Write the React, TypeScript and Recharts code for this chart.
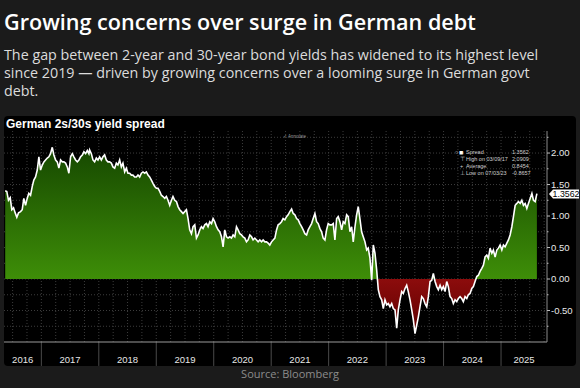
import React from 'react';
import { ComposedChart, Area, XAxis, YAxis, CartesianGrid, ReferenceLine } from 'recharts';

// Observation dates (decimal years) and German 2s/30s spread values (pct points)
const dates: number[] = [
  // 2016-05 .. 2017-10
  2016.371, 2016.399, 2016.428, 2016.458, 2016.486, 2016.516, 2016.545, 2016.573, 2016.603, 2016.638,
  2016.667, 2016.695, 2016.725, 2016.754, 2016.782, 2016.812, 2016.842, 2016.869, 2016.899, 2016.929,
  2016.957, 2016.986, 2017.016, 2017.044, 2017.073, 2017.103, 2017.131, 2017.160, 2017.190, 2017.218,
  2017.248, 2017.277, 2017.305, 2017.335, 2017.364, 2017.392, 2017.422, 2017.451, 2017.479, 2017.509,
  2017.539, 2017.566, 2017.596, 2017.626, 2017.654, 2017.683, 2017.713, 2017.741, 2017.770, 2017.800,
  2017.828,
  // 2017-11 .. 2019-05
  2017.840, 2017.870, 2017.898, 2017.927, 2017.957, 2017.985, 2018.014, 2018.044, 2018.072, 2018.101,
  2018.131, 2018.159, 2018.188, 2018.218, 2018.246, 2018.276, 2018.305, 2018.333, 2018.363, 2018.392,
  2018.420, 2018.450, 2018.479, 2018.507, 2018.537, 2018.567, 2018.594, 2018.624, 2018.654, 2018.682,
  2018.711, 2018.741, 2018.769, 2018.798, 2018.828, 2018.856, 2018.885, 2018.915, 2018.943, 2018.973,
  2019.002, 2019.030, 2019.060, 2019.089, 2019.117, 2019.147, 2019.176, 2019.204, 2019.234, 2019.264,
  2019.291, 2019.321, 2019.351, 2019.379,
  // 2019-05 .. 2020-12
  2019.408, 2019.438, 2019.466, 2019.495, 2019.525, 2019.553, 2019.582, 2019.612, 2019.640, 2019.670,
  2019.699, 2019.727, 2019.757, 2019.786, 2019.814, 2019.844, 2019.873, 2019.901, 2019.931, 2019.961,
  2019.989,
  2020.018, 2020.048, 2020.076, 2020.105, 2020.135, 2020.163, 2020.192, 2020.222, 2020.250, 2020.280,
  2020.309, 2020.337, 2020.367, 2020.396, 2020.424, 2020.454, 2020.483, 2020.511, 2020.541, 2020.570,
  2020.598, 2020.628, 2020.658, 2020.685, 2020.715, 2020.745, 2020.773, 2020.802, 2020.832, 2020.860,
  2020.889, 2020.919, 2020.947,
  // 2020-12 .. 2022-07
  2020.976,
  2021.006, 2021.034, 2021.064, 2021.093, 2021.121, 2021.151, 2021.180, 2021.208, 2021.238, 2021.267,
  2021.295, 2021.325, 2021.355, 2021.383, 2021.412, 2021.442, 2021.470, 2021.499, 2021.529, 2021.557,
  2021.586, 2021.616, 2021.644, 2021.674, 2021.703, 2021.731, 2021.761, 2021.790, 2021.818, 2021.848,
  2021.877, 2021.905, 2021.935, 2021.964, 2021.992,
  2022.022, 2022.052, 2022.080, 2022.109, 2022.139, 2022.167, 2022.196, 2022.226, 2022.254, 2022.283,
  2022.313, 2022.341, 2022.371, 2022.400, 2022.428, 2022.458, 2022.487, 2022.515,
  // 2022-07 .. 2024-01
  2022.545, 2022.574, 2022.602, 2022.632, 2022.662, 2022.689, 2022.719, 2022.749, 2022.777, 2022.806,
  2022.836, 2022.864, 2022.893, 2022.923, 2022.951, 2022.980,
  2023.010, 2023.038, 2023.067, 2023.097, 2023.125, 2023.155, 2023.184, 2023.212, 2023.242, 2023.271,
  2023.299, 2023.329, 2023.358, 2023.386, 2023.416, 2023.446, 2023.474, 2023.503, 2023.533, 2023.561,
  2023.590, 2023.620, 2023.648, 2023.677, 2023.707, 2023.735, 2023.765, 2023.794, 2023.822, 2023.852,
  2023.881, 2023.909, 2023.939, 2023.968, 2023.996,
  2024.026, 2024.055, 2024.083,
  // 2024-02 .. 2025-08
  2024.113, 2024.142, 2024.170, 2024.200, 2024.229, 2024.257, 2024.287, 2024.316, 2024.344, 2024.374,
  2024.404, 2024.431, 2024.461, 2024.491, 2024.519, 2024.548, 2024.578, 2024.606, 2024.635, 2024.665,
  2024.693, 2024.722, 2024.752, 2024.780, 2024.810, 2024.840, 2024.867, 2024.897, 2024.927, 2024.955,
  2024.984,
  2025.014, 2025.042, 2025.071, 2025.101, 2025.129, 2025.158, 2025.188, 2025.216, 2025.246, 2025.275,
  2025.303, 2025.333, 2025.362, 2025.390, 2025.420, 2025.449, 2025.477, 2025.507, 2025.537, 2025.564,
  2025.594, 2025.624,
];

const spread: number[] = [
  1.40, 1.39, 1.25, 1.29, 1.10, 1.13, 1.05, 0.98, 1.05, 1.07,
  1.10, 1.28, 1.17, 1.28, 1.36, 1.33, 1.47, 1.57, 1.62, 1.73,
  1.94, 1.73, 1.81, 1.86, 1.89, 1.92, 1.94, 1.99, 2.0909, 1.97,
  1.89, 1.86, 1.76, 1.89, 1.86, 1.86, 1.84, 1.78, 1.68, 1.94,
  1.99, 1.94, 1.89, 1.86, 1.89, 1.94, 1.97, 2.02, 1.99, 2.04,
  1.99,
  2.05, 1.99, 1.89, 1.86, 1.92, 1.89, 1.94, 1.89, 1.94, 1.97,
  1.89, 1.86, 1.86, 1.84, 1.78, 1.76, 1.84, 1.81, 1.89, 1.78,
  1.84, 1.70, 1.76, 1.68, 1.68, 1.65, 1.65, 1.62, 1.62, 1.65,
  1.62, 1.68, 1.70, 1.68, 1.70, 1.65, 1.62, 1.57, 1.52, 1.47,
  1.44, 1.44, 1.39, 1.33, 1.31, 1.28, 1.31, 1.25, 1.17, 1.25,
  1.31, 1.25, 1.23, 1.15,
  1.10, 1.07, 1.04, 1.07, 1.10, 0.96, 0.78, 0.72, 0.83, 0.86,
  0.65, 0.70, 0.78, 0.83, 0.80, 0.86, 0.88, 0.83, 0.91, 0.88,
  0.96,
  0.91, 0.83, 0.78, 0.75, 0.67, 0.51, 0.78, 0.67, 0.65, 0.67,
  0.65, 0.70, 0.67, 0.83, 0.78, 0.72, 0.70, 0.67, 0.65, 0.59,
  0.62, 0.70, 0.67, 0.62, 0.65, 0.62, 0.59, 0.62, 0.59, 0.62,
  0.59, 0.59, 0.57,
  0.54,
  0.59, 0.62, 0.65, 0.78, 0.86, 0.88, 0.91, 0.96, 0.94, 0.99,
  1.02, 1.07, 1.11, 1.04, 1.02, 0.96, 0.94, 0.88, 0.83, 0.78,
  0.72, 0.70, 0.78, 0.83, 0.88, 0.96, 1.04, 0.91, 0.88, 0.80,
  0.75, 0.65, 0.62, 0.78, 0.88,
  0.86, 0.86, 0.88, 0.62, 0.96, 0.99, 0.91, 0.78, 0.91, 0.88,
  1.02, 0.99, 0.75, 0.83, 0.59, 0.83, 1.02, 1.15,
  0.95, 0.75, 0.67, 0.59, 0.46, 0.49, 0.33, -0.02, 0.54, 0.41,
  0.14, -0.17, -0.28, -0.33, -0.47, -0.33,
  -0.41, -0.39, -0.44, -0.39, -0.47, -0.49, -0.78, -0.49, -0.33, -0.20,
  -0.23, -0.15, -0.10, -0.20, -0.33, -0.49, -0.65, -0.8657, -0.73, -0.60,
  -0.44, -0.28, -0.31, -0.39, -0.44, -0.28, -0.04, -0.02, 0.09, -0.04,
  -0.12, -0.17, -0.10, -0.17, -0.12,
  -0.20, -0.04, -0.12,
  -0.28, -0.31, -0.39, -0.33, -0.36, -0.31, -0.28, -0.31, -0.36, -0.28,
  -0.31, -0.25, -0.23, -0.15, -0.12, -0.04, 0.04, 0.06, 0.12, 0.17,
  0.22, 0.35, 0.38, 0.33, 0.49, 0.41, 0.46, 0.35, 0.46, 0.49,
  0.54,
  0.46, 0.54, 0.51, 0.57, 0.62, 0.70, 0.83, 0.99, 1.17, 1.20,
  1.23, 1.20, 1.25, 1.17, 1.20, 1.12, 1.20, 1.28, 1.36, 1.25,
  1.23, 1.3562,
];

const yearLabels: number[] = [2016, 2017, 2018, 2019, 2020, 2021, 2022, 2023, 2024, 2025];
const yTicks: number[] = [-0.75, -0.5, -0.25, 0, 0.25, 0.5, 0.75, 1, 1.25, 1.5, 1.75, 2, 2.25];

const legendRows = [
  { icon: '■', label: 'Spread', value: '1.3562' },
  { icon: '⊤', label: 'High on 03/09/17', value: '2.0909' },
  { icon: '+', label: 'Average', value: '0.8454' },
  { icon: '⊥', label: 'Low on 07/03/23', value: '-0.8657' },
];
const latestValue = 1.3562;

const TITLE = 'Growing concerns over surge in German debt';
const SUB1 = 'The gap between 2-year and 30-year bond yields has widened to its highest level';
const SUB2 = 'since 2019 — driven by growing concerns over a looming surge in German govt';
const SUB3 = 'debt.';
const PANEL_TITLE = 'German 2s/30s yield spread';
const SOURCE = 'Source: Bloomberg';

const X_MIN = 2016.35;
const X_MAX = 2025.8;
const Y_MIN = -1;
const Y_MAX = 2.35;

const data = dates.map((t, i) => ({ t, v: spread[i] }));
const dMax = Math.max(...spread);
const dMin = Math.min(...spread);
const zeroOff = dMax / (dMax - dMin);

const labelCenters = yearLabels.map((y) => (Math.max(y, X_MIN) + Math.min(y + 1, X_MAX)) / 2);
const quarterLines: number[] = [];
for (let q = 2016.5; q < X_MAX; q += 0.25) quarterLines.push(q);
const separators = yearLabels.filter((y) => y > X_MIN && y < X_MAX);

const AXIS_FONT = 'Liberation Sans, Arial, sans-serif';

const RightTick = (props: any) => {
  const { x, y, payload } = props;
  const v = payload.value as number;
  const major = Math.abs(v * 2 - Math.round(v * 2)) < 1e-6;
  return (
    <g>
      <line x1={x - 4} x2={major ? x - 1 : x - 2.5} y1={y} y2={y} stroke="#bdbdbd" strokeWidth={1} />
      {major && (
        <text x={x} y={y} dy="0.35em" fill="#e8e8e8" fontSize={9.5} fontFamily={AXIS_FONT}>
          {v.toFixed(2)}
        </text>
      )}
    </g>
  );
};

const LatestLabel = (props: any) => {
  const vb = props.viewBox || {};
  const xr = (vb.x ?? 0) + (vb.width ?? 0);
  const y = (vb.y ?? 0) + 0.5;
  return (
    <g>
      <path
        d={`M${xr + 2},${y} L${xr + 6},${y - 4.5} L${xr + 32},${y - 4.5} L${xr + 32},${y + 4.5} L${xr + 6},${y + 4.5} Z`}
        fill="#ffffff"
      />
      <text x={xr + 19} y={y} dy="0.34em" textAnchor="middle" fill="#000" fontSize={8.8} fontFamily={AXIS_FONT}>
        {latestValue.toFixed(4)}
      </text>
    </g>
  );
};

export default function App() {
  return (
    <div
      style={{
        position: 'relative',
        width: 580,
        height: 388,
        background: '#1b1b1b',
        overflow: 'hidden',
        fontFamily: '"Open Sans", sans-serif',
      }}
    >
      <style>{'body{margin:0;background:#1b1b1b}'}</style>
      <div
        style={{
          position: 'absolute',
          left: 4,
          top: 8,
          fontSize: 21.6,
          fontWeight: 600,
          color: '#ffffff',
          lineHeight: '28px',
          whiteSpace: 'nowrap',
          letterSpacing: 0,
        }}
      >
        {TITLE}
      </div>
      <div
        style={{
          position: 'absolute',
          left: 4,
          top: 46,
          fontSize: 14.3,
          color: '#dcdcdc',
          lineHeight: '18px',
          whiteSpace: 'nowrap',
        }}
      >
        {SUB1}
        <br />
        {SUB2}
        <br />
        {SUB3}
      </div>

      <div
        style={{
          position: 'absolute',
          left: 4,
          top: 116,
          width: 572,
          height: 250,
          background: '#000',
          borderRadius: 4,
        }}
      />
      <div
        style={{
          position: 'absolute',
          left: 6,
          top: 117,
          fontSize: 12,
          fontWeight: 700,
          color: '#fff',
          fontFamily: AXIS_FONT,
          lineHeight: '14px',
          whiteSpace: 'nowrap',
        }}
      >
        {PANEL_TITLE}
      </div>

      <div style={{ position: 'absolute', left: 4, top: 116 }}>
        <ComposedChart width={576} height={250} data={data} margin={{ top: 15, right: 4, bottom: 0, left: 0 }}>
          <defs>
            <linearGradient id="spreadFill" x1="0" y1="0" x2="0" y2="1">
              <stop offset="0" stopColor="#164800" />
              <stop offset={zeroOff} stopColor="#3e8e08" />
              <stop offset={zeroOff} stopColor="#8c0c0c" />
              <stop offset="1" stopColor="#5e0000" />
            </linearGradient>
          </defs>
          <CartesianGrid
            stroke="#3c3c3c"
            strokeDasharray="1 2"
            verticalValues={quarterLines}
            horizontalValues={yTicks}
          />
          <XAxis
            dataKey="t"
            type="number"
            domain={[X_MIN, X_MAX]}
            allowDataOverflow
            ticks={labelCenters}
            interval={0}
            tickFormatter={(v: number) => String(Math.floor(v))}
            height={24}
            axisLine={{ stroke: '#9a9a9a' }}
            tickLine={false}
            tickSize={6}
            tickMargin={8}
            tick={{ fill: '#e6e6e6', fontSize: 9.5, fontFamily: AXIS_FONT }}
          />
          <YAxis
            orientation="right"
            type="number"
            domain={[Y_MIN, Y_MAX]}
            allowDataOverflow
            ticks={yTicks}
            interval={0}
            width={29}
            tickSize={3}
            tickMargin={1}
            tickLine={false}
            axisLine={{ stroke: '#8a8a8a' }}
            tick={<RightTick />}
          />
          <Area
            dataKey="v"
            type="linear"
            baseValue={0}
            stroke="#ffffff"
            strokeWidth={1.6}
            fill="url(#spreadFill)"
            fillOpacity={1}
            dot={false}
            activeDot={false}
            isAnimationActive={false}
          />
          {separators.map((yr) => (
            <ReferenceLine
              key={yr}
              segment={[
                { x: yr, y: Y_MIN },
                { x: yr, y: Y_MIN - 0.38 },
              ]}
              ifOverflow="visible"
              stroke="#4a4a4a"
              strokeWidth={1}
            />
          ))}
          <ReferenceLine y={latestValue} stroke="none" ifOverflow="visible" label={<LatestLabel />} />
        </ComposedChart>
      </div>

      <div
        style={{
          position: 'absolute',
          left: 283,
          top: 134,
          fontSize: 4.5,
          color: '#9a9a9a',
          fontFamily: AXIS_FONT,
          whiteSpace: 'nowrap',
        }}
      >
        ✓ Annotate
      </div>

      <div
        style={{
          position: 'absolute',
          left: 455,
          top: 148.5,
          fontFamily: AXIS_FONT,
          fontSize: 5.5,
          color: '#cfcfcf',
          lineHeight: '7px',
        }}
      >
        {legendRows.map((r, i) => (
          <div key={r.label} style={{ position: 'relative', height: 7, width: 82, whiteSpace: 'nowrap' }}>
            {i === 0 && <span style={{ position: 'absolute', left: 0, top: 0 }}>○</span>}
            <span
              style={{
                position: 'absolute',
                left: i === 0 ? 4 : 5,
                top: 0,
                color: i === 0 ? '#fff' : '#cfcfcf',
                fontSize: i === 0 ? 7 : 5.5,
              }}
            >
              {r.icon}
            </span>
            <span style={{ position: 'absolute', left: 11, top: 0 }}>{r.label}</span>
            <span style={{ position: 'absolute', left: 57, top: 0 }}>{r.value}</span>
          </div>
        ))}
      </div>

      <div
        style={{
          position: 'absolute',
          left: 0,
          width: 580,
          top: 367,
          textAlign: 'center',
          fontSize: 11,
          color: '#8c8c8c',
          lineHeight: '14px',
        }}
      >
        {SOURCE}
      </div>
    </div>
  );
}
